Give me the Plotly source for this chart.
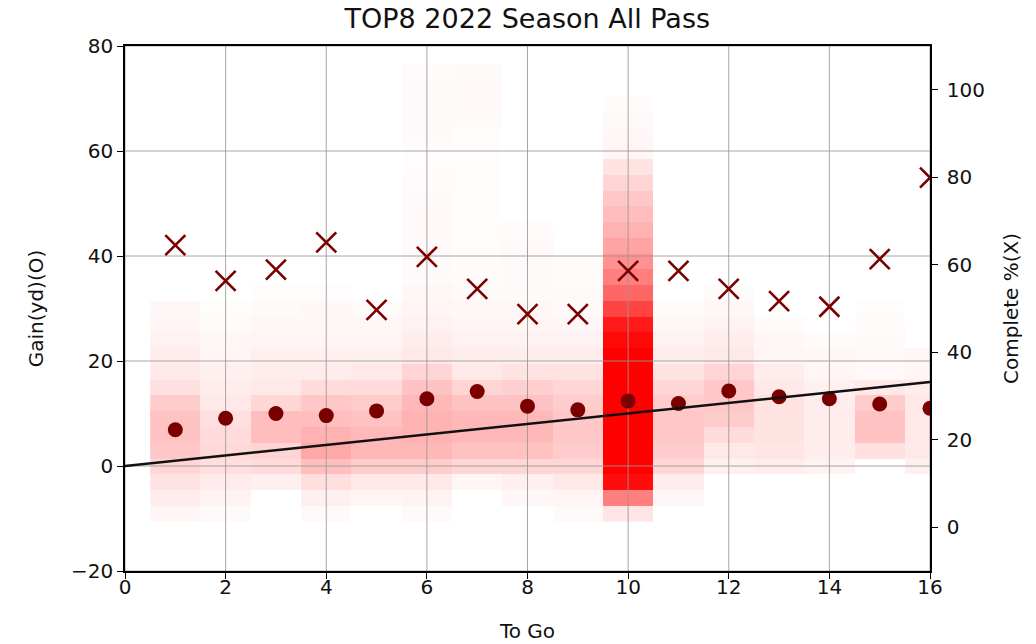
import plotly.graph_objects as go

# ---------------- data ----------------
to_go = list(range(1, 17))
avg_gain = [6.9, 9.1, 10.0, 9.6, 10.5, 12.8, 14.2, 11.4, 10.7, 12.4, 11.9, 14.3, 13.2, 12.8, 11.8, 11.0]
complete_pct = [64.5, 56.3, 58.9, 65.1, 49.7, 61.8, 54.5, 48.7, 48.7, 58.6, 58.6, 54.5, 51.7, 50.4, 61.3, 79.9]

# reference line: gain == yards to go
ref_x = [0, 16]
ref_y = [0, 16]

# gain bins (yd, bin centres) and density of plays per To-Go column (0..1)
gain_bins = list(range(-9, 79, 3))
gain_density = {
    1: {-9: 0.04, -6: 0.07, -3: 0.11, 0: 0.16, 3: 0.22, 6: 0.24, 9: 0.24, 12: 0.20, 15: 0.12,
        18: 0.09, 21: 0.07, 24: 0.05, 27: 0.04, 30: 0.03},
    2: {-9: 0.02, -6: 0.05, -3: 0.08, 0: 0.13, 3: 0.15, 6: 0.14, 9: 0.12, 12: 0.09, 15: 0.07,
        18: 0.06, 21: 0.04, 24: 0.03, 27: 0.015, 30: 0.01},
    3: {-3: 0.06, 0: 0.14, 3: 0.17, 6: 0.26, 9: 0.26, 12: 0.16, 15: 0.09, 18: 0.07, 21: 0.06,
        24: 0.04, 27: 0.03, 30: 0.02, 33: 0.01},
    4: {-9: 0.02, -6: 0.06, -3: 0.13, 0: 0.25, 3: 0.34, 6: 0.30, 9: 0.26, 12: 0.22, 15: 0.14,
        18: 0.08, 21: 0.06, 24: 0.04, 27: 0.03, 30: 0.03, 33: 0.01},
    5: {-6: 0.04, -3: 0.09, 0: 0.20, 3: 0.28, 6: 0.28, 9: 0.24, 12: 0.20, 15: 0.14, 18: 0.09,
        21: 0.06, 24: 0.04, 27: 0.03, 30: 0.015},
    6: {-9: 0.02, -6: 0.05, -3: 0.09, 0: 0.20, 3: 0.28, 6: 0.30, 9: 0.30, 12: 0.28, 15: 0.24,
        18: 0.17, 21: 0.09, 24: 0.07, 27: 0.05, 30: 0.04, 33: 0.03, 36: 0.02, 39: 0.02, 42: 0.025,
        45: 0.025, 48: 0.025, 51: 0.02, 54: 0.015, 57: 0.01, 60: 0.01, 63: 0.02, 66: 0.02,
        69: 0.02, 72: 0.02, 75: 0.015},
    7: {-3: 0.04, 0: 0.16, 3: 0.24, 6: 0.28, 9: 0.28, 12: 0.24, 15: 0.17, 18: 0.09, 21: 0.07,
        24: 0.05, 27: 0.04, 30: 0.03, 33: 0.02, 36: 0.015, 39: 0.01, 42: 0.01, 45: 0.01,
        48: 0.01, 51: 0.01, 54: 0.01, 57: 0.01, 60: 0.01, 63: 0.01, 66: 0.02, 69: 0.025,
        72: 0.025, 75: 0.02},
    8: {-6: 0.03, -3: 0.06, 0: 0.16, 3: 0.24, 6: 0.28, 9: 0.28, 12: 0.24, 15: 0.19, 18: 0.11,
        21: 0.07, 24: 0.05, 27: 0.04, 30: 0.03, 33: 0.02, 36: 0.02, 39: 0.025, 42: 0.025, 45: 0.015},
    9: {-9: 0.02, -6: 0.04, -3: 0.09, 0: 0.16, 3: 0.20, 6: 0.22, 9: 0.22, 12: 0.20, 15: 0.16,
        18: 0.11, 21: 0.07, 24: 0.05, 27: 0.03, 30: 0.025, 33: 0.02, 36: 0.015, 39: 0.01},
    10: {-9: 0.10, -6: 0.50, -3: 0.95, 0: 1.0, 3: 1.0, 6: 1.0, 9: 1.0, 12: 1.0, 15: 1.0,
         18: 1.0, 21: 1.0, 24: 0.97, 27: 0.90, 30: 0.74, 33: 0.60, 36: 0.50, 39: 0.43,
         42: 0.36, 45: 0.30, 48: 0.26, 51: 0.22, 54: 0.17, 57: 0.11, 60: 0.04, 63: 0.03,
         66: 0.02, 69: 0.015},
    11: {-6: 0.03, -3: 0.07, 0: 0.16, 3: 0.20, 6: 0.22, 9: 0.22, 12: 0.20, 15: 0.16, 18: 0.11,
         21: 0.07, 24: 0.05, 27: 0.03, 30: 0.015},
    12: {0: 0.06, 3: 0.09, 6: 0.14, 9: 0.20, 12: 0.22, 15: 0.22, 18: 0.17, 21: 0.09, 24: 0.07,
         27: 0.05, 30: 0.03, 33: 0.015},
    13: {0: 0.07, 3: 0.10, 6: 0.11, 9: 0.11, 12: 0.11, 15: 0.09, 18: 0.07, 21: 0.04, 24: 0.03,
         27: 0.015},
    14: {0: 0.05, 3: 0.07, 6: 0.07, 9: 0.07, 12: 0.07, 15: 0.06, 18: 0.04, 21: 0.03, 24: 0.015},
    15: {3: 0.12, 6: 0.24, 9: 0.24, 12: 0.20, 15: 0.09, 18: 0.025, 21: 0.025, 24: 0.02,
         27: 0.015, 30: 0.01},
    16: {0: 0.06, 3: 0.09, 6: 0.09, 9: 0.09, 12: 0.09, 15: 0.07, 18: 0.04, 21: 0.03},
}

x_ticks = list(range(0, 17, 2))
y_ticks = list(range(-20, 81, 20))
y2_ticks = list(range(0, 101, 20))

# ---------------- figure ----------------
FONT = "DejaVu Sans"
DARKRED = "#7a0000"
TXT = "#111111"

z = [[gain_density[t].get(g, 0.0) for t in to_go] for g in gain_bins]

fig = go.Figure()

fig.add_trace(go.Heatmap(
    x=to_go, y=gain_bins, z=z, zmin=0, zmax=1,
    colorscale=[[0, "rgba(255,0,0,0)"], [1, "rgba(255,0,0,1)"]],
    showscale=False, hoverinfo="skip", xaxis="x", yaxis="y",
))

# grid lines (drawn above the shading, like matplotlib)
gx, gy = [], []
for xv in x_ticks:
    gx += [xv, xv, None]
    gy += [y_ticks[0], y_ticks[-1], None]
for yv in y_ticks:
    gx += [x_ticks[0], x_ticks[-1], None]
    gy += [yv, yv, None]
fig.add_trace(go.Scatter(x=gx, y=gy, mode="lines",
                         line=dict(color="rgba(150,150,150,0.85)", width=1),
                         hoverinfo="skip", showlegend=False, xaxis="x", yaxis="y"))

fig.add_trace(go.Scatter(x=to_go, y=avg_gain, mode="markers",
                         marker=dict(symbol="circle", size=15, color=DARKRED),
                         showlegend=False, xaxis="x", yaxis="y"))

fig.add_trace(go.Scatter(x=ref_x, y=ref_y, mode="lines",
                         line=dict(color="#111111", width=2.4),
                         showlegend=False, xaxis="x", yaxis="y"))

fig.add_trace(go.Scatter(x=to_go, y=complete_pct, mode="markers",
                         marker=dict(symbol="x-thin", size=20, color=DARKRED,
                                     line=dict(color=DARKRED, width=2.6)),
                         showlegend=False, xaxis="x", yaxis="y2"))

axis_common = dict(
    showgrid=False, zeroline=False, showline=True, linecolor="black", linewidth=1.5,
    ticks="outside", ticklen=6, tickwidth=1.3, tickcolor="black",
    tickfont=dict(family=FONT, size=20, color=TXT),
)

fig.update_layout(
    width=1036, height=644,
    margin=dict(l=125, r=106, t=46, b=73, autoexpand=False),
    paper_bgcolor="white", plot_bgcolor="white",
    showlegend=False,
    title=dict(text="TOP8 2022 Season All Pass", x=0.509, xanchor="center",
               y=0.971, yanchor="middle", yref="container",
               font=dict(family=FONT, size=27, color=TXT)),
    xaxis=dict(range=[0, 16], tickvals=x_ticks, mirror=True, ticklabelstandoff=-9,
               title=dict(text="To Go", standoff=26,
                          font=dict(family=FONT, size=20, color=TXT)),
               **axis_common),
    yaxis=dict(range=[-20, 80], tickvals=y_ticks,
               title=dict(text="Gain(yd)(O)", standoff=22,
                          font=dict(family=FONT, size=20, color=TXT)),
               **axis_common),
    yaxis2=dict(range=[-10, 110], tickvals=y2_ticks, overlaying="y", side="right",
                ticklabelstandoff=5,
                title=dict(text="Complete %(X)", standoff=20,
                           font=dict(family=FONT, size=20, color=TXT)),
                **axis_common),
)

fig.write_html("out.html", config={"displayModeBar": False},
               post_script="document.body.style.margin='0px';")
